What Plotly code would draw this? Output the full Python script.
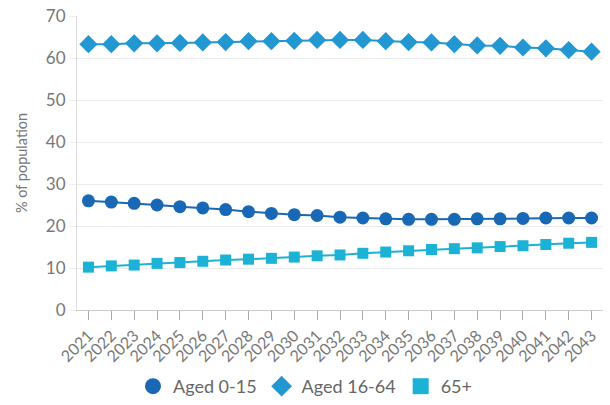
import plotly.graph_objects as go

years = [str(y) for y in range(2021, 2044)]
aged_0_15 = [26.0, 25.7, 25.4, 25.0, 24.6, 24.3, 23.9, 23.4, 23.0, 22.7, 22.5, 22.1, 21.9, 21.7,
             21.6, 21.6, 21.6, 21.7, 21.7, 21.8, 21.9, 21.9, 21.9]
aged_16_64 = [63.3, 63.3, 63.5, 63.5, 63.6, 63.7, 63.8, 64.0, 64.0, 64.1, 64.3, 64.3, 64.3, 64.0,
              63.8, 63.7, 63.3, 63.0, 62.9, 62.5, 62.3, 61.9, 61.5]
aged_65 = [10.2, 10.5, 10.7, 11.1, 11.3, 11.6, 11.9, 12.1, 12.3, 12.6, 12.9, 13.1, 13.5, 13.8,
           14.1, 14.4, 14.6, 14.8, 15.1, 15.3, 15.6, 15.9, 16.1]
y_ticks = [0, 10, 20, 30, 40, 50, 60, 70]

series = [
    ("Aged 0-15", aged_0_15, "#1868b5", "circle", 13, 30),
    ("Aged 16-64", aged_16_64, "#2297d1", "diamond", 14, 30),
    ("65+", aged_65, "#1cb2d6", "square", 11, 24),
]

fig = go.Figure()
for name, vals, col, sym, sz, lsz in series:
    fig.add_trace(go.Scatter(x=years, y=vals, name=name, mode="lines+markers", showlegend=False,
                             line=dict(color=col, width=2),
                             marker=dict(symbol=sym, size=sz, color=col)))
for name, vals, col, sym, sz, lsz in series:
    fig.add_trace(go.Scatter(x=[years[0]], y=[None], name=name, mode="markers", showlegend=True,
                             marker=dict(symbol=sym, size=lsz, color=col)))

fig.update_layout(
    width=610, height=405,
    margin=dict(l=77, r=7, t=16, b=95, autoexpand=False),
    paper_bgcolor="white", plot_bgcolor="white",
    font=dict(family="Lato, sans-serif", color="#666666"),
    showlegend=True,
    legend=dict(orientation="h", xref="container", x=0.5, xanchor="center",
                yref="container", y=0.0, yanchor="bottom",
                font=dict(size=18, color="#666666"), itemsizing="trace", itemwidth=30,
                tracegroupgap=0),
    xaxis=dict(type="category", range=[-0.5, len(years) - 0.5], tickangle=-45, ticks="outside",
               ticklen=9, tickcolor="#aaaaaa",
               showline=True, linecolor="#cccccc", showgrid=False, automargin=False,
               tickfont=dict(size=16, color="#777777")),
    yaxis=dict(range=[0, 70], tickvals=y_ticks, showgrid=True, gridcolor="#ececec",
               showline=True, linecolor="#dddddd", ticks="outside", ticklen=7, tickcolor="#eeeeee",
               zeroline=False, tickfont=dict(size=17, color="#777777"), automargin=False,
               title=dict(text="% of population", font=dict(size=14.5, color="#777777"), standoff=14)),
)

fig.write_html("out.html", config={"displayModeBar": False},
               post_script="document.body.style.margin='0';")
